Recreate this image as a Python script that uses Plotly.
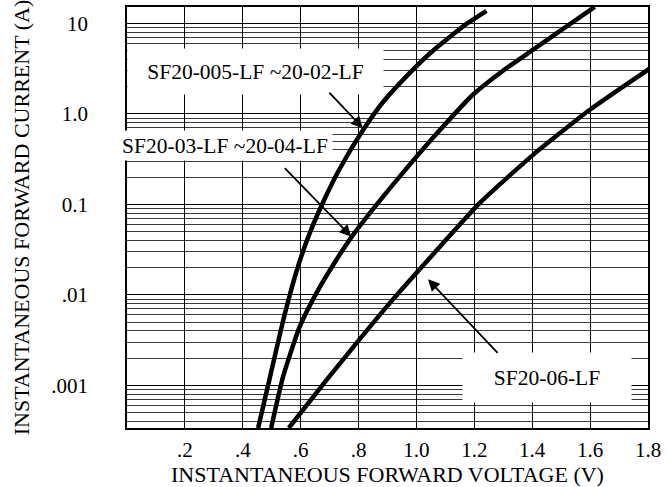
import math
import plotly.graph_objects as go

# ---- data ----
v_sf20_005 = [0.453, 0.493, 0.544, 0.590, 0.631, 0.683, 0.735, 0.815, 0.884, 0.977, 1.057, 1.173, 1.242]
i_sf20_005 = [0.000338, 0.001195, 0.00595, 0.0202, 0.0479, 0.1153, 0.248, 0.659, 1.346, 2.848, 5.00, 9.88, 13.76]

v_sf20_03 = [0.498, 0.539, 0.596, 0.654, 0.723, 0.781, 0.884, 0.953, 1.057, 1.195, 1.299, 1.403, 1.616]
i_sf20_03 = [0.000338, 0.001241, 0.00441, 0.0104, 0.0243, 0.0460, 0.1211, 0.2233, 0.5445, 1.63, 3.005, 5.13, 15.24]

v_sf20_06 = [0.559, 0.689, 0.792, 0.907, 1.046, 1.219, 1.403, 1.599, 1.809]
i_sf20_06 = [0.000338, 0.001141, 0.00291, 0.00806, 0.02557, 0.1039, 0.353, 1.112, 3.22]

x_tickvals = [0.2, 0.4, 0.6, 0.8, 1.0, 1.2, 1.4, 1.6, 1.8]
x_ticktext = [".2", ".4", ".6", ".8", "1.0", "1.2", "1.4", "1.6", "1.8"]
y_tickvals = [10, 1, 0.1, 0.01, 0.001]
y_ticktext = ["10", "1.0", "0.1", ".01", ".001"]

x_range = [0, 1.8]
y_range = [0.000338, 15.2]

FONT = "Liberation Serif, Times New Roman, serif"

fig = go.Figure()
for v, i in [(v_sf20_005, i_sf20_005), (v_sf20_03, i_sf20_03), (v_sf20_06, i_sf20_06)]:
    fig.add_trace(go.Scatter(x=v, y=i, mode="lines",
                             line=dict(color="black", width=4.5, shape="spline", smoothing=0.5),
                             showlegend=False, hoverinfo="skip"))

minor_vals = [m * 10 ** e for e in range(-4, 2) for m in range(2, 10)]

fig.update_layout(
    width=667, height=487,
    margin=dict(l=127, r=19, t=7, b=59, autoexpand=False),
    paper_bgcolor="white", plot_bgcolor="white",
    font=dict(family=FONT, size=21, color="black"),
    showlegend=False,
    xaxis=dict(
        range=x_range, tickmode="array", tickvals=x_tickvals, ticktext=x_ticktext,
        showgrid=True, gridcolor="black", gridwidth=1,
        showline=True, linecolor="black", linewidth=1.5, mirror=True,
        zeroline=False, ticks="", automargin=False, ticklabelstandoff=2,
        title=dict(text="INSTANTANEOUS FORWARD VOLTAGE (V)", font=dict(size=22), standoff=6),
    ),
    yaxis=dict(
        type="log", range=[math.log10(y_range[0]), math.log10(y_range[1])],
        tickmode="array", tickvals=y_tickvals, ticktext=y_ticktext,
        showgrid=True, gridcolor="black", gridwidth=1,
        minor=dict(tickmode="array", tickvals=minor_vals, showgrid=True,
                   gridcolor="#3a3a3a", gridwidth=1, ticks=""),
        showline=True, linecolor="black", linewidth=1.5, mirror=True,
        zeroline=False, ticks="", ticklabelstandoff=33, automargin=False,
        title=dict(text="INSTANTANEOUS FORWARD CURRENT (A)", font=dict(size=22), standoff=16),
    ),
)

# label boxes
boxes = [
    ("SF20-005-LF ~20-02-LF", 0.444, 0.467, 253, 43),
    ("SF20-03-LF ~20-04-LF", 0.339, -0.352, 212, 27),
    ("SF20-06-LF", 1.450, -2.915, 166, 47),
]
for text, bx, by, w, h in boxes:
    fig.add_annotation(x=bx, y=by, xref="x", yref="y", text=text, showarrow=False,
                       bgcolor="white", width=w, height=h, align="center", valign="middle",
                       font=dict(size=21.5, family=FONT, color="black"))

# arrows (head position in data coords, tail offset in pixels)
arrows = [
    (0.815, -0.157, -35, -37),
    (0.775, -1.356, -68, -70),
    (1.040, -1.828, 71, 75),
]
for hx, hy, ax, ay in arrows:
    fig.add_annotation(x=hx, y=hy, xref="x", yref="y", text="", showarrow=True,
                       ax=ax, ay=ay, arrowhead=2, arrowsize=1.3, arrowwidth=1.8,
                       arrowcolor="black", standoff=0, startstandoff=0)

fig.write_html("out.html", config={"displayModeBar": False},
               post_script="document.body.style.margin='0';")
